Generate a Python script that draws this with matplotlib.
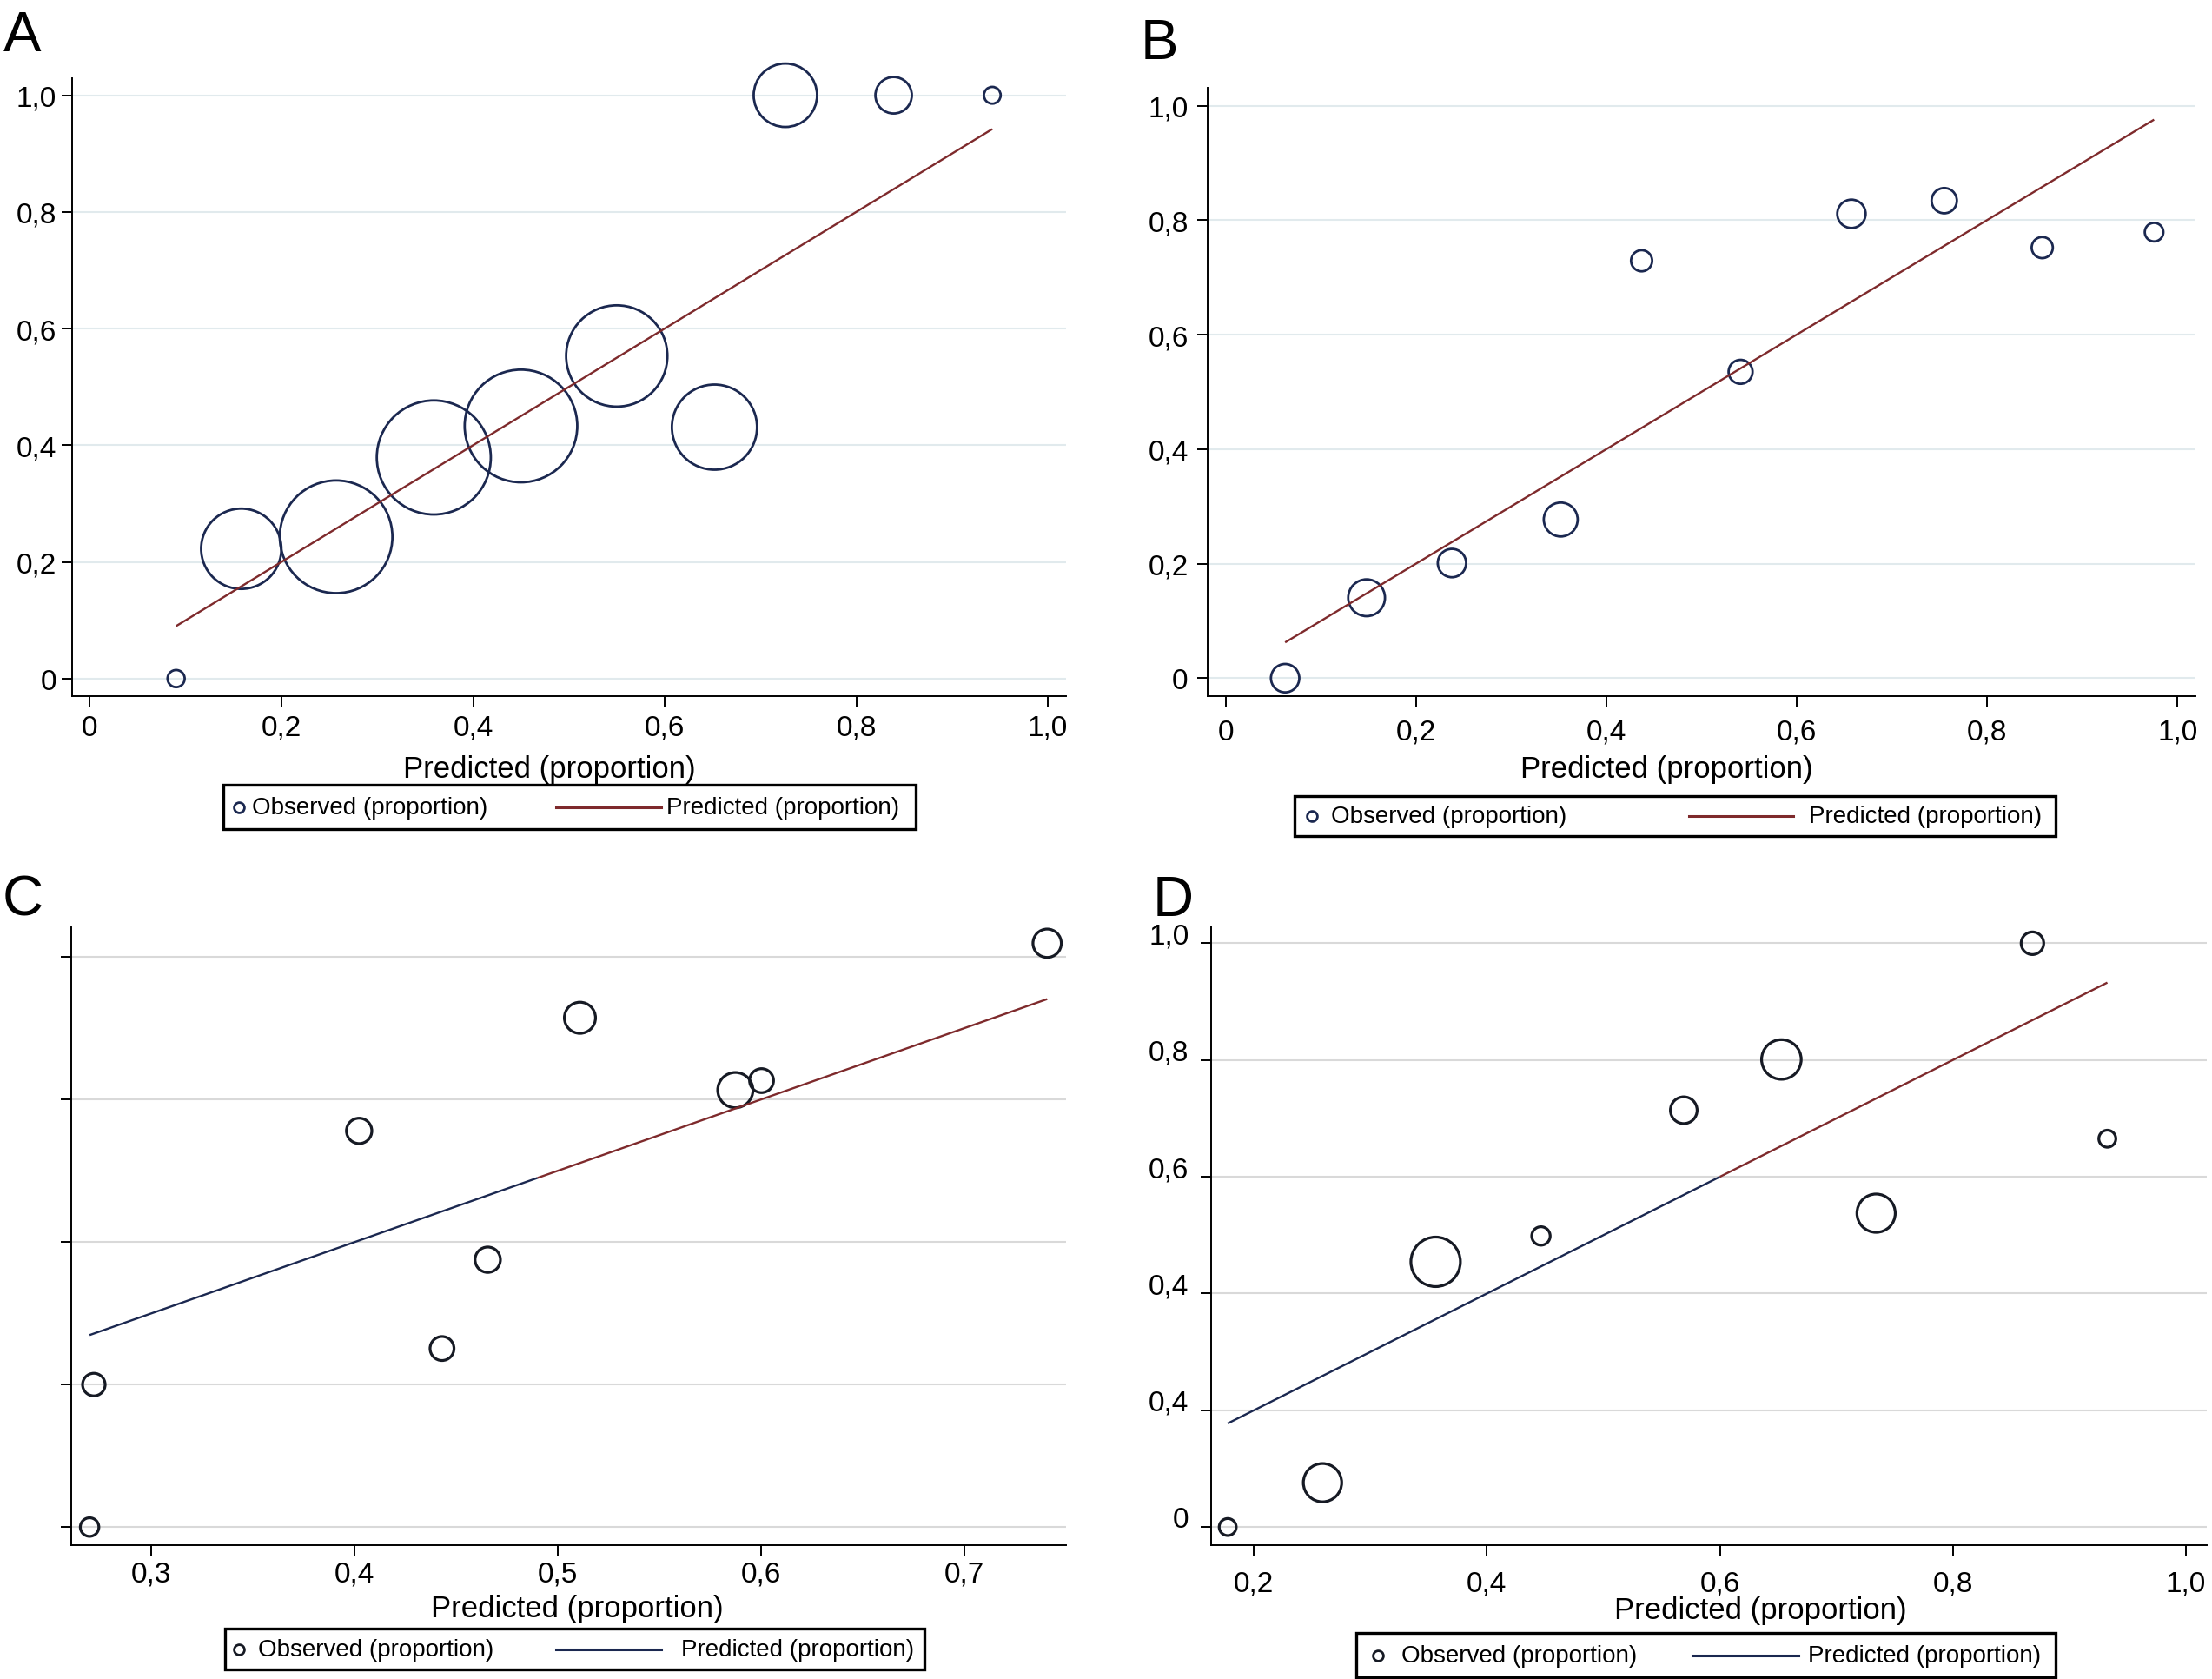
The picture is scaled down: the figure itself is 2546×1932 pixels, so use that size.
import numpy as np
import matplotlib
matplotlib.use("Agg")
import matplotlib.pyplot as plt
from matplotlib.lines import Line2D
from matplotlib.patches import Rectangle

plt.rcParams['font.family'] = ['Liberation Sans', 'DejaVu Sans']

# ---------------- data ----------------
A_pred = [0.090, 0.158, 0.257, 0.359, 0.450, 0.550, 0.652, 0.726, 0.839, 0.942]
A_obs = [0.000, 0.2225, 0.243, 0.379, 0.433, 0.553, 0.431, 1.000, 1.000, 1.000]
A_n = [2.3, 50.5, 99.4, 101.9, 99.4, 80.4, 56.8, 31.5, 10.4, 2.2]

B_pred = [0.0624, 0.148, 0.2377, 0.352, 0.437, 0.541, 0.6575, 0.755, 0.858, 0.9755]
B_obs = [0.000, 0.1404, 0.201, 0.277, 0.729, 0.535, 0.811, 0.834, 0.752, 0.779]
B_n = [6.3, 10.6, 6.3, 9.0, 3.5, 4.5, 6.3, 5.0, 3.5, 2.7]

C_pred = [0.2695, 0.2716, 0.4022, 0.443, 0.4655, 0.5109, 0.5874, 0.6003, 0.7409]
C_obs = [0.000, 0.200, 0.556, 0.2506, 0.3752, 0.7147, 0.6132, 0.6265, 0.8193]
C_n = [2.7, 4.0, 5.05, 4.5, 5.05, 7.6, 9.75, 4.5, 6.3]

D_pred = [0.1775, 0.2589, 0.356, 0.4464, 0.569, 0.6528, 0.7341, 0.8683, 0.9326]
D_obs = [0.000, 0.076, 0.4543, 0.4986, 0.714, 0.8009, 0.5376, 1.000, 0.6652]
D_n = [2.27, 11.5, 19.2, 2.66, 5.6, 12.3, 11.5, 4.0, 2.27]

AB_ticks = [0, 0.2, 0.4, 0.6, 0.8, 1.0]
AB_labels = ["0", "0,2", "0,4", "0,6", "0,8", "1,0"]
C_xticks = [0.3, 0.4, 0.5, 0.6, 0.7]
C_xlabels = ["0,3", "0,4", "0,5", "0,6", "0,7"]
C_yticks = [0, 0.2, 0.4, 0.6, 0.8]
D_xticks = [0.2, 0.4, 0.6, 0.8, 1.0]
D_xlabels = ["0,2", "0,4", "0,6", "0,8", "1,0"]
D_yticks = [0, 0.2, 0.4, 0.6, 0.8, 1.0]
D_ylabels = ["0", "0,4", "0,4", "0,6", "0,8", "1,0"]

xtitle = "Predicted (proportion)"
leg_obs = "Observed (proportion)"
leg_pred = "Predicted (proportion)"

# ---------------- style / layout ----------------
W, H = 2546, 1933
NAVY = '#1b2850'
MAROON = '#7e2a2c'
DARK = '#161a24'
GRID_AB = '#e1eaed'
GRID_CD = '#d9d9d9'
SIZE_K = 87.6

fig = plt.figure(figsize=(W / 100, H / 100), dpi=100)


def px_axes(l, r, t, b):
    return fig.add_axes([l / W, 1 - b / H, (r - l) / W, (b - t) / H])


panels = [
    dict(letter='A', lxy=(26, 59), box=(83.4, 1227, 90.6, 802),
         xlim=(-0.0182, 1.019), ylim=(-0.0301, 1.0298),
         pred=A_pred, obs=A_obs, n=A_n,
         xt=AB_ticks, xl=AB_labels, yt=AB_ticks, yl=AB_labels,
         mcol=NAVY, mlw=2.0, grid=GRID_AB, split=None, lcol=MAROON,
         xpad=6.5, ypad=4.5, yva='center_baseline',
         title=(632, 895),
         leg=dict(box=(256.7, 1054, 904.4, 955), mk=275, t1=290, ln=(640, 761), t2=767, lcol=MAROON)),
    dict(letter='B', lxy=(1334, 68.5), box=(1390, 2527.3, 101.9, 801.6),
         xlim=(-0.019, 1.0193), ylim=(-0.0308, 1.0313),
         pred=B_pred, obs=B_obs, n=B_n,
         xt=AB_ticks, xl=AB_labels, yt=AB_ticks, yl=AB_labels,
         mcol=NAVY, mlw=2.0, grid=GRID_AB, split=None, lcol=MAROON,
         xpad=10.4, ypad=7.5, yva='center_baseline',
         title=(1918.6, 895),
         leg=dict(box=(1490, 2366, 916.9, 962.5), mk=1510, t1=1532, ln=(1944, 2064), t2=2081.5, lcol=MAROON)),
    dict(letter='C', lxy=(26, 1054), box=(82.3, 1227, 1068, 1779.3),
         xlim=(0.2606, 0.7502), ylim=(-0.0257, 0.8417),
         pred=C_pred, obs=C_obs, n=C_n,
         xt=C_xticks, xl=C_xlabels, yt=C_yticks, yl=None,
         mcol=DARK, mlw=2.3, grid=GRID_CD, split=0.49, lcol=MAROON,
         xpad=4.1, ypad=4.5, yva='center_baseline',
         title=(664, 1861.5),
         leg=dict(box=(259, 1063.5, 1875.4, 1922), mk=275.4, t1=297, ln=(640, 761), t2=784, lcol=NAVY)),
    dict(letter='D', lxy=(1350, 1054), box=(1393.5, 2539.5, 1066.9, 1779.2),
         xlim=(0.1629, 1.0176), ylim=(-0.0313, 1.029),
         pred=D_pred, obs=D_obs, n=D_n,
         xt=D_xticks, xl=D_xlabels, yt=D_yticks, yl=D_ylabels,
         mcol=DARK, mlw=2.3, grid=GRID_CD, split=0.60, lcol=MAROON,
         xpad=11.6, ypad=9.4, yva='baseline',
         title=(2026.8, 1862.7),
         leg=dict(box=(1560.5, 2366, 1879.7, 1931.4), mk=1585.8, t1=1613.4, ln=(1948, 2070), t2=2081, lcol=NAVY)),
]

for p in panels:
    l, r, t, b = p['box']
    ax = px_axes(l, r, t, b)
    ax.set_xlim(*p['xlim'])
    ax.set_ylim(*p['ylim'])

    pred = np.asarray(p['pred'])
    obs = np.asarray(p['obs'])
    n = np.asarray(p['n'])

    ax.scatter(pred, obs, s=n * SIZE_K, facecolors='none', edgecolors=p['mcol'],
               linewidths=p['mlw'], zorder=3, clip_on=False)

    xs = np.sort(pred)
    if p['split'] is None:
        ax.plot(xs, xs, color=p['lcol'], lw=1.7, zorder=4, solid_capstyle='butt')
    else:
        s = p['split']
        lo = np.append(xs[xs <= s], s)
        hi = np.insert(xs[xs >= s], 0, s)
        ax.plot(lo, lo, color=NAVY, lw=1.7, zorder=4, solid_capstyle='butt')
        ax.plot(hi, hi, color=MAROON, lw=1.7, zorder=4, solid_capstyle='butt')

    ax.set_xticks(p['xt'], p['xl'])
    if p['yl'] is None:
        ax.set_yticks(p['yt'])
        ax.tick_params(axis='y', labelleft=False)
    else:
        ax.set_yticks(p['yt'], p['yl'], va=p['yva'])

    ax.yaxis.grid(True, color=p['grid'], lw=1.5)
    ax.xaxis.grid(False)
    ax.set_axisbelow(True)
    for sp in ('top', 'right'):
        ax.spines[sp].set_visible(False)
    for sp in ('left', 'bottom'):
        ax.spines[sp].set_linewidth(1.4)
        ax.spines[sp].set_color('black')
    ax.tick_params(axis='both', direction='out', length=8.6, width=1.4,
                   labelsize=24, colors='black')
    ax.tick_params(axis='x', pad=p['xpad'])
    ax.tick_params(axis='y', pad=p['ypad'])

    tx, ty = p['title']
    fig.text(tx / W, 1 - ty / H, xtitle, fontsize=25, ha='center', va='baseline')

    lx, ly = p['lxy']
    fig.text(lx / W, 1 - ly / H, p['letter'], fontsize=47, ha='center', va='baseline')

    lg = p['leg']
    bl, br, bt, bb = lg['box']
    fig.add_artist(Rectangle((bl / W, 1 - bb / H), (br - bl) / W, (bb - bt) / H,
                             fill=False, edgecolor='black', lw=2.4,
                             transform=fig.transFigure))
    cy = 1 - ((bt + bb) / 2) / H
    fig.add_artist(Line2D([lg['mk'] / W], [cy], marker='o', ms=8.5, mfc='none',
                          mec=p['mcol'], mew=2.0, transform=fig.transFigure))
    fig.text(lg['t1'] / W, cy, leg_obs, fontsize=20, ha='left', va='center')
    fig.add_artist(Line2D([lg['ln'][0] / W, lg['ln'][1] / W], [cy, cy], color=lg['lcol'],
                          lw=2.2, transform=fig.transFigure))
    fig.text(lg['t2'] / W, cy, leg_pred, fontsize=20, ha='left', va='center')

fig.savefig('out.png', dpi=100, facecolor='white')
